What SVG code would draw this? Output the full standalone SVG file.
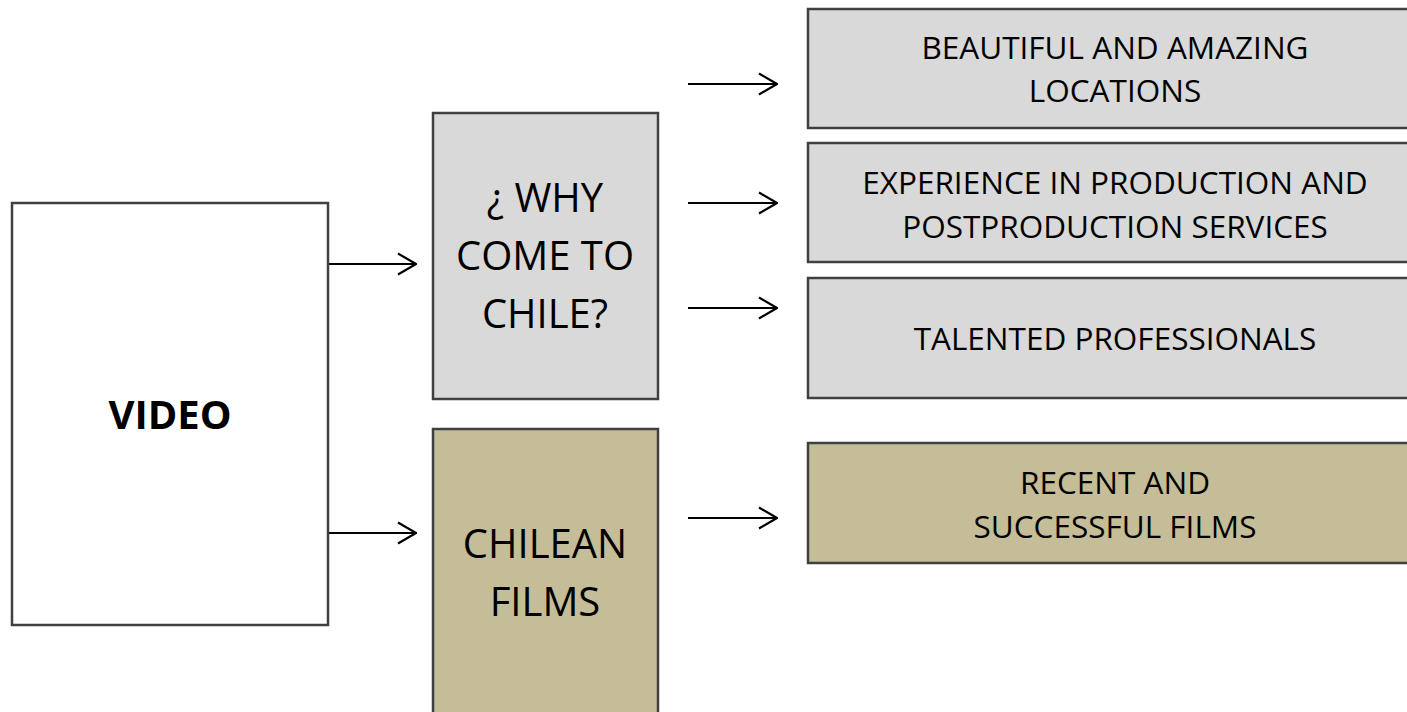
<svg xmlns="http://www.w3.org/2000/svg" width="1407" height="712" viewBox="0 0 1407 712">
<defs>
<style>
.box{stroke:#404040;stroke-width:2.5}
.w{fill:#ffffff}
.g{fill:#d9d9d9}
.o{fill:#c4bd97}
.t{font-family:"Open Sans","Noto Sans",sans-serif;fill:#000;text-anchor:middle}
.big{font-size:40px}
.sm{font-size:31.5px}
.b{font-weight:bold;font-size:40px}
.arr{stroke:#000;stroke-width:2.2;fill:none;marker-end:url(#ah)}
</style>
<marker id="ah" viewBox="0 0 20 24" refX="19" refY="12" markerWidth="20" markerHeight="24" markerUnits="userSpaceOnUse" orient="auto">
<path d="M1,1.5 L19,12 L1,22.5" stroke="#000" stroke-width="2.2" fill="none"/>
</marker>
</defs>
<rect width="1407" height="712" fill="#ffffff"/>
<g id="connectors">
<line class="arr" x1="329" y1="264" x2="416" y2="264"/>
<line class="arr" x1="329" y1="533" x2="416" y2="533"/>
<line class="arr" x1="688" y1="84" x2="777" y2="84"/>
<line class="arr" x1="688" y1="203" x2="777" y2="203"/>
<line class="arr" x1="688" y1="308" x2="777" y2="308"/>
<line class="arr" x1="688" y1="518" x2="777" y2="518"/>
</g>
<g id="video">
<rect class="box w" x="12" y="203" width="316" height="422"/>
<text class="t b" x="170" y="429">VIDEO</text>
</g>
<g id="why">
<rect class="box g" x="433" y="113" width="225" height="286"/>
<text class="t big" x="545" y="212">¿ WHY</text>
<text class="t big" x="545" y="270">COME TO</text>
<text class="t big" x="545" y="328">CHILE?</text>
</g>
<g id="chilean">
<rect class="box o" x="433" y="429" width="225" height="300"/>
<text class="t big" x="545" y="558">CHILEAN</text>
<text class="t big" x="545" y="616">FILMS</text>
</g>
<g id="locations">
<rect class="box g" x="808" y="9" width="614" height="119"/>
<text class="t sm" x="1115" y="59">BEAUTIFUL AND AMAZING</text>
<text class="t sm" x="1115" y="102">LOCATIONS</text>
</g>
<g id="experience">
<rect class="box g" x="808" y="143" width="614" height="119"/>
<text class="t sm" x="1115" y="194">EXPERIENCE IN PRODUCTION AND</text>
<text class="t sm" x="1115" y="238">POSTPRODUCTION SERVICES</text>
</g>
<g id="talented">
<rect class="box g" x="808" y="278" width="614" height="120"/>
<text class="t sm" x="1115" y="350">TALENTED PROFESSIONALS</text>
</g>
<g id="recent">
<rect class="box o" x="808" y="443" width="614" height="120"/>
<text class="t sm" x="1115" y="494">RECENT AND</text>
<text class="t sm" x="1115" y="538">SUCCESSFUL FILMS</text>
</g>
</svg>
